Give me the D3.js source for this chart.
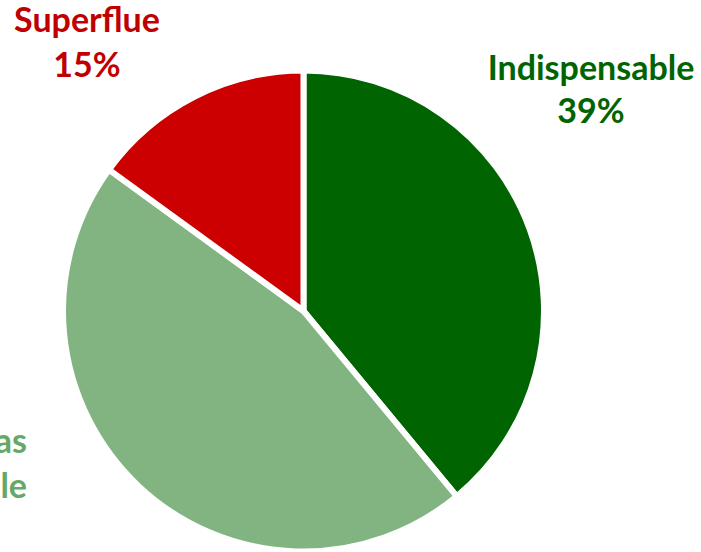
<!DOCTYPE html>
<html>
<head>
<meta charset="utf-8">
<script src="https://cdn.jsdelivr.net/npm/d3@7"></script>
<style>
  html, body { margin: 0; padding: 0; background: #ffffff; overflow: hidden; }
  svg { display: block; }
  text { font-family: Lato, "Open Sans", sans-serif; font-weight: 700; }
</style>
</head>
<body>
<svg id="chart" width="701" height="552"></svg>
<script>
// Share of items by category
const categories = ["Indispensable", "Utile mais pas indispensable", "Superflue"];
const values = [39, 46, 15];
const sliceColors = ["#006400", "#82b482", "#cc0000"];
const labelColors = ["#006400", "#67a867", "#c00000"];
// Label lines (name split over lines, then percentage where shown)
const labelLines = [
  ["Indispensable", "39%"],
  ["Utile mais pas", "indispensable"],
  ["Superflue", "15%"]
];

const width = 701, height = 552;
const cx = 303.5, cy = 311, radius = 240.5;

const svg = d3.select("#chart");
const g = svg.append("g").attr("transform", `translate(${cx},${cy})`);

const pie = d3.pie().sort(null).value(d => d).startAngle(0).endAngle(2 * Math.PI);
const arc = d3.arc().innerRadius(0).outerRadius(radius);

const arcs = pie(values);

g.selectAll("path.slice")
  .data(arcs)
  .join("path")
  .attr("class", "slice")
  .attr("d", arc)
  .attr("fill", (d, i) => sliceColors[i])
  .attr("stroke", "#ffffff")
  .attr("stroke-width", 6)
  .attr("stroke-linejoin", "miter");

// Label placement: first baseline, alignment and line step per category
const labelPos = [
  { x: 591, y: 80, anchor: "middle", step: 43 },
  { x: 27, y: 453, anchor: "end", step: 45 },
  { x: 87, y: 32, anchor: "middle", step: 45 }
];
const fontSize = 34;

labelLines.forEach((lines, i) => {
  const t = svg.append("text")
    .attr("text-anchor", labelPos[i].anchor)
    .attr("fill", labelColors[i])
    .attr("font-size", fontSize);
  lines.forEach((ln, j) => {
    t.append("tspan")
      .attr("x", labelPos[i].x)
      .attr("y", labelPos[i].y + j * labelPos[i].step)
      .text(ln);
  });
});
</script>
</body>
</html>
